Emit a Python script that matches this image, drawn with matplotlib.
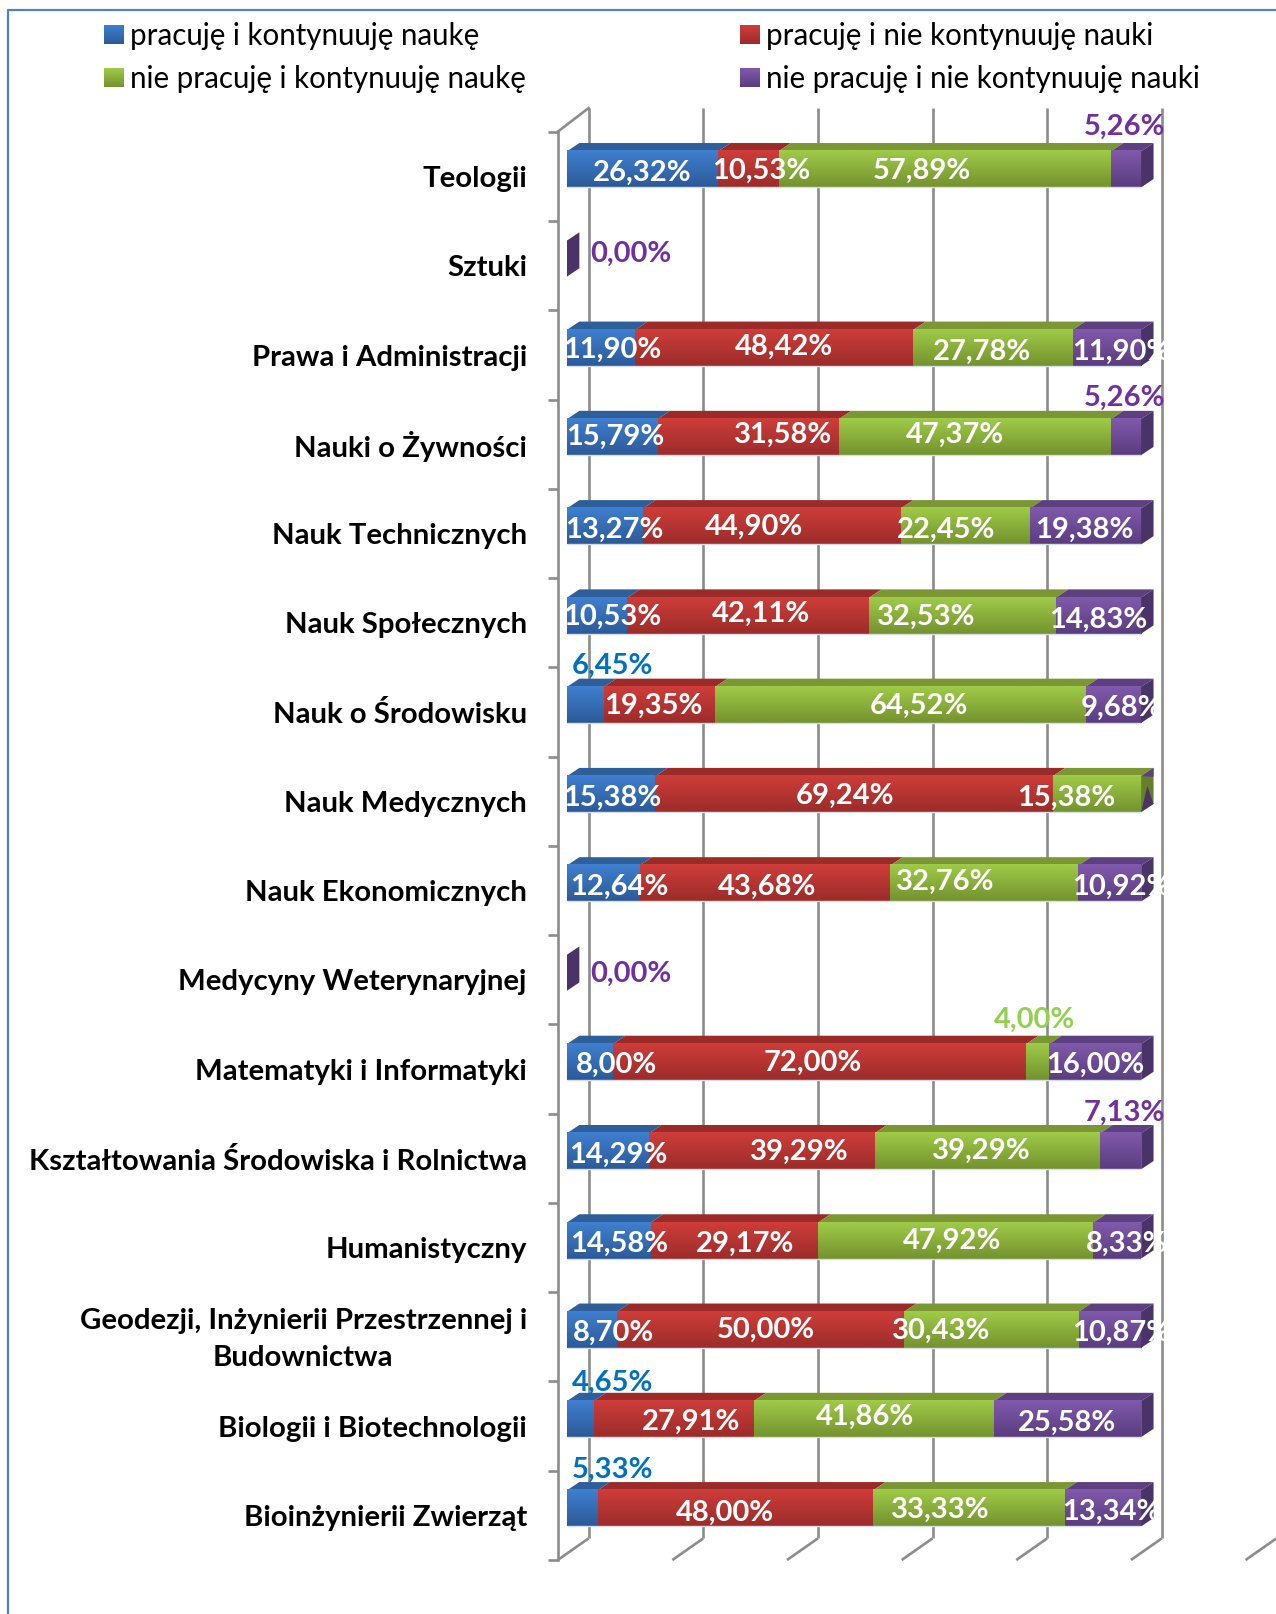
import numpy as np
import matplotlib
matplotlib.use("Agg")
import matplotlib.pyplot as plt
from matplotlib.patches import Polygon, Rectangle
from matplotlib.lines import Line2D

plt.rcParams['font.family'] = ['Lato', 'DejaVu Sans']

categories = ["Teologii", "Sztuki", "Prawa i Administracji", "Nauki o Żywności",
              "Nauk Technicznych", "Nauk Społecznych", "Nauk o Środowisku",
              "Nauk Medycznych", "Nauk Ekonomicznych", "Medycyny Weterynaryjnej",
              "Matematyki i Informatyki", "Kształtowania Środowiska i Rolnictwa",
              "Humanistyczny", "Geodezji, Inżynierii Przestrzennej i\nBudownictwa",
              "Biologii i Biotechnologii", "Bioinżynierii Zwierząt"]
series_names = ["pracuję i kontynuuję naukę", "pracuję i nie kontynuuję nauki",
                "nie pracuję i kontynuuję naukę", "nie pracuję i nie kontynuuję nauki"]

work_study = [26.32, 0, 11.90, 15.79, 13.27, 10.53, 6.45, 15.38, 12.64, 0, 8.00, 14.29, 14.58, 8.70, 4.65, 5.33]
work_nostudy = [10.53, 0, 48.42, 31.58, 44.90, 42.11, 19.35, 69.24, 43.68, 0, 72.00, 39.29, 29.17, 50.00, 27.91, 48.00]
nowork_study = [57.89, 0, 27.78, 47.37, 22.45, 32.53, 64.52, 15.38, 32.76, 0, 4.00, 39.29, 47.92, 30.43, 41.86, 33.33]
nowork_nostudy = [5.26, 0, 11.90, 5.26, 19.38, 14.83, 9.68, 0, 10.92, 0, 16.00, 7.13, 8.33, 10.87, 25.58, 13.34]
values = [work_study, work_nostudy, nowork_study, nowork_nostudy]

grid_ticks = [0, 20, 40, 60, 80, 100, 120]

# colours: front top, front bottom, top face
front_top = ['#3F7FD0', '#CE3D39', '#9FCB48', '#8059AC']
front_bot = ['#2C5A98', '#9C2C2A', '#74922E', '#5A3D7E']
top_face = ['#2E5F9B', '#9B2B29', '#7A9733', '#5E4080']
label_out = ['#0070C0', '#C00000', '#92D050', '#7030A0']

# label centres in px of the shrunk view (1240 wide), row by row, one per series
label_pos = [
    [(624, 166), (740, 164), (896, 164), (1093, 121)],
    [None, None, None, (613, 245)],
    [(595, 338), (762, 335), (954, 340), (1090, 340)],
    [(598, 423), (761, 421), (928, 421), (1093, 385)],
    [(597, 513), (733, 510), (919, 513), (1054, 513)],
    [(595, 597), (740, 595), (900, 597), (1067, 600)],
    [(595, 645), (635, 684), (893, 684), (1090, 686)],
    [(595, 773), (821, 771), (1036, 773), None],
    [(602, 860), (745, 860), (919, 855), (1090, 860)],
    [None, None, None, (613, 944)],
    [(599, 1033), (790, 1031), (1005, 989), (1064, 1033)],
    [(601, 1120), (777, 1117), (954, 1116), (1093, 1079)],
    [(602, 1207), (724, 1207), (925, 1204), (1095, 1207)],
    [(596, 1293), (744, 1290), (915, 1291), (1090, 1293)],
    [(595, 1342), (672, 1380), (841, 1375), (1037, 1381)],
    [(595, 1426), (704, 1468), (914, 1465), (1080, 1467)],
]

W, H = 1276, 1614
S = 1276 / 1240.0
x_unit = 5.58  # shrunk px per percent
y_unit = 86.75  # shrunk px per row
x0_px = 551.0
y0_px = 164.5

fig = plt.figure(figsize=(W / 100, H / 100), dpi=100, facecolor='white')
ax = fig.add_axes([0, 0, 1, 1])
ax.set_xlim((0 - x0_px) / x_unit, (W / S - x0_px) / x_unit)
ax.set_ylim((H / S - y0_px) / y_unit, (0 - y0_px) / y_unit)
ax.axis('off')


def px(x, y):
    return (x - x0_px) / x_unit, (y - y0_px) / y_unit


def grad(c1, c2, n=32):
    a = np.array(matplotlib.colors.to_rgb(c1))
    b = np.array(matplotlib.colors.to_rgb(c2))
    t = np.linspace(0, 1, n)[:, None, None]
    return a[None, None, :] * (1 - t) + b[None, None, :] * t


# walls and floor
dx = 12 / x_unit
dy = 8 / y_unit
bar_h = 35 / y_unit
wall_l, _ = px(542, 0)
wall_b, _ = px(572, 0)
_, y_top_f = px(0, 128)
_, y_top_b = px(0, 105)
_, y_bot_f = px(0, 1516)
_, y_bot_b = px(0, 1495)
grid_col = '#8C8C8C'
lw = 1.9
for t in grid_ticks:
    xf = wall_l + t * 111.4 / 111.6
    xb = wall_b + t * 111.4 / 111.6
    ax.plot([xf, xb], [y_bot_f, y_bot_b], color=grid_col, lw=lw, zorder=1, solid_capstyle='butt')
    if t <= 100:
        ax.plot([xb, xb], [y_top_b, y_bot_b], color=grid_col, lw=lw, zorder=1, solid_capstyle='butt')
ax.plot([wall_l, wall_l], [y_top_f, y_bot_f], color=grid_col, lw=lw, zorder=1)
ax.plot([wall_l, wall_b], [y_top_f, y_top_b], color=grid_col, lw=lw, zorder=1)
tick_l, _ = px(533, 0)
for i in range(len(categories) + 1):
    yy = i - 0.5 + (128 + y_unit / 2 - y0_px) / y_unit
    ax.plot([tick_l, wall_l], [yy, yy], color=grid_col, lw=lw, zorder=1, solid_capstyle='butt')

# bars
ypos = np.arange(len(categories))
lefts = np.zeros(len(categories))
z = 3
for s in range(4):
    vals = np.array(values[s])
    bars = ax.barh(ypos, vals, left=lefts, height=bar_h, color=front_bot[s], zorder=z)
    for i, b in enumerate(bars):
        if vals[i] == 0:
            continue
        l, r = lefts[i], lefts[i] + vals[i]
        ax.imshow(grad(front_top[s], front_bot[s]), extent=(l, r, i + bar_h / 2, i - bar_h / 2),
                  aspect='auto', origin='upper', zorder=z + 0.1, interpolation='bilinear')
        ax.add_patch(Polygon([(l, i - bar_h / 2), (l + dx, i - bar_h / 2 - dy),
                              (r + dx, i - bar_h / 2 - dy), (r, i - bar_h / 2)],
                             closed=True, facecolor=top_face[s], edgecolor='none', zorder=z))
    lefts = lefts + vals

# right faces
for i in ypos:
    total = sum(values[s][i] for s in range(4))
    t, b = i - bar_h / 2, i + bar_h / 2
    pts = [(total, t), (total + dx, t - dy), (total + dx, b - dy), (total, b)]
    if values[3][i] > 0 or total == 0:
        col = '#4A3367'
    else:
        col = '#677F2B'
    ax.add_patch(Polygon(pts, closed=True, facecolor=col, edgecolor='none', zorder=5))
    if values[3][i] == 0 and total > 0:
        # leftovers of the empty purple segment on the side wall
        ax.add_patch(Polygon([(total, t), (total + dx, t - dy), (total + dx, t - dy + 0.1)],
                             closed=True, facecolor='#5E4080', edgecolor='none', zorder=6))
        ax.add_patch(Polygon([(total, b - 0.005), (total + dx * 0.5, b - dy - 0.2), (total + dx, b - dy)],
                             closed=True, facecolor='#4A3367', edgecolor='none', zorder=6))
    # pale rim under the bar
    if total > 0:
        ax.plot([0, total], [b, b], color='#D5DEEA', lw=1.0, zorder=6, solid_capstyle='butt')

# value labels
clip = Rectangle(px(0, 0), 1132 / x_unit, 1700 / y_unit, transform=ax.transData)
for i in ypos:
    for s in range(4):
        p = label_pos[i][s]
        if p is None:
            continue
        outside = p[1] < y0_px + i * y_unit - 25 or values[s][i] == 0
        col = label_out[s] if outside else 'white'
        tx, ty = px(p[0], p[1] + 2)
        t = ax.text(tx, ty, f"{values[s][i]:.2f}%".replace('.', ','), color=col, fontsize=21,
                    fontweight='bold', ha='center', va='center', zorder=8)
        t.set_clip_path(clip)

# category labels
for i, name in enumerate(categories):
    tx, ty = px(512, y0_px + i * y_unit + 9.5)
    ax.text(tx, ty, name, ha='right', va='center', multialignment='center', fontsize=21.2,
            fontweight='bold', color='black', linespacing=1.5, zorder=8)

# legend
leg_x = [101, 101, 719, 719]
leg_y = [33.5, 75.5, 33.5, 75.5]
leg_order = [0, 2, 1, 3]
for k, s in enumerate(leg_order):
    x1, y1 = px(leg_x[k], leg_y[k] - 9)
    x2, y2 = px(leg_x[k] + 19, leg_y[k] + 9)
    ax.imshow(grad(front_top[s], front_bot[s]), extent=(x1, x2, y2, y1), aspect='auto',
              origin='upper', zorder=8, interpolation='bilinear')
    tx, ty = px(leg_x[k] + 25, leg_y[k] + 1)
    ax.text(tx, ty, series_names[s], ha='left', va='center', fontsize=21.25, color='black', zorder=8)

ax.set_xlim((0 - x0_px) / x_unit, (W / S - x0_px) / x_unit)
ax.set_ylim((H / S - y0_px) / y_unit, (0 - y0_px) / y_unit)

# outer frame, runs off the right and bottom edge
fig.add_artist(Line2D([8 / W, 8 / W, 1.0], [0, 1 - 10 / H, 1 - 10 / H], color='#4F81BD', lw=1.6,
                      transform=fig.transFigure))

fig.savefig("out.png", dpi=100)
